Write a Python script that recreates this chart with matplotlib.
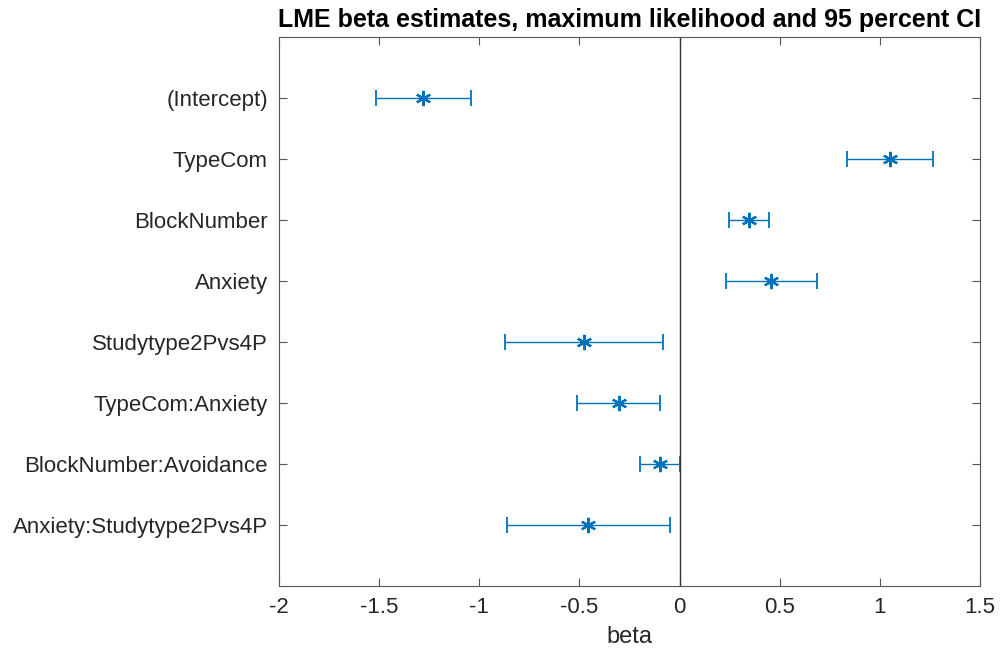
import matplotlib.pyplot as plt
import numpy as np

plt.rcParams['font.family'] = ['Liberation Sans', 'DejaVu Sans']

terms = ['(Intercept)', 'TypeCom', 'BlockNumber', 'Anxiety', 'Studytype2Pvs4P',
         'TypeCom:Anxiety', 'BlockNumber:Avoidance', 'Anxiety:Studytype2Pvs4P']
beta = [-1.28, 1.05, 0.347, 0.458, -0.478, -0.303, -0.10, -0.458]
ci_low = [-1.518, 0.838, 0.245, 0.233, -0.873, -0.51, -0.20, -0.86]
ci_high = [-1.04, 1.265, 0.448, 0.685, -0.081, -0.10, 0.0, -0.048]

beta = np.array(beta)
err = np.vstack([beta - np.array(ci_low), np.array(ci_high) - beta])
ypos = np.arange(1, len(terms) + 1)

fig = plt.figure(figsize=(10, 6.51), dpi=100)
ax = fig.add_axes([0.279, 0.0998, 0.701, 0.8434])

blue = '#0072BD'
# MATLAB-style asterisk marker
ax.errorbar(beta, ypos, xerr=err, fmt='none', ecolor=blue,
            elinewidth=1.0, capsize=6, capthick=1.3)
ax.plot(beta, ypos, ls='none', marker=(6, 2, 0), color=blue,
        markersize=11, mew=1.6)
ax.axvline(0, color='#333333', lw=1.0)

ax.set_xlim(-2, 1.5)
ax.set_ylim(9, 0)
ax.set_xticks(np.arange(-2, 1.51, 0.5))
ax.set_xticklabels(['-2', '-1.5', '-1', '-0.5', '0', '0.5', '1', '1.5'])
ax.set_yticks(ypos)
ax.set_yticklabels(terms)
ax.tick_params(direction='in', length=6, width=0.8, color='#555555',
               labelsize=16, labelcolor='#262626', top=True, right=True, pad=8)
for s in ax.spines.values():
    s.set_color('#555555')
    s.set_linewidth(0.8)

ax.set_xlabel('beta', fontsize=17, color='#262626', labelpad=6)
ax.set_title('LME beta estimates, maximum likelihood and 95 percent CI',
             fontsize=18, fontweight='bold', pad=7)

plt.savefig('out.png', dpi=100)
